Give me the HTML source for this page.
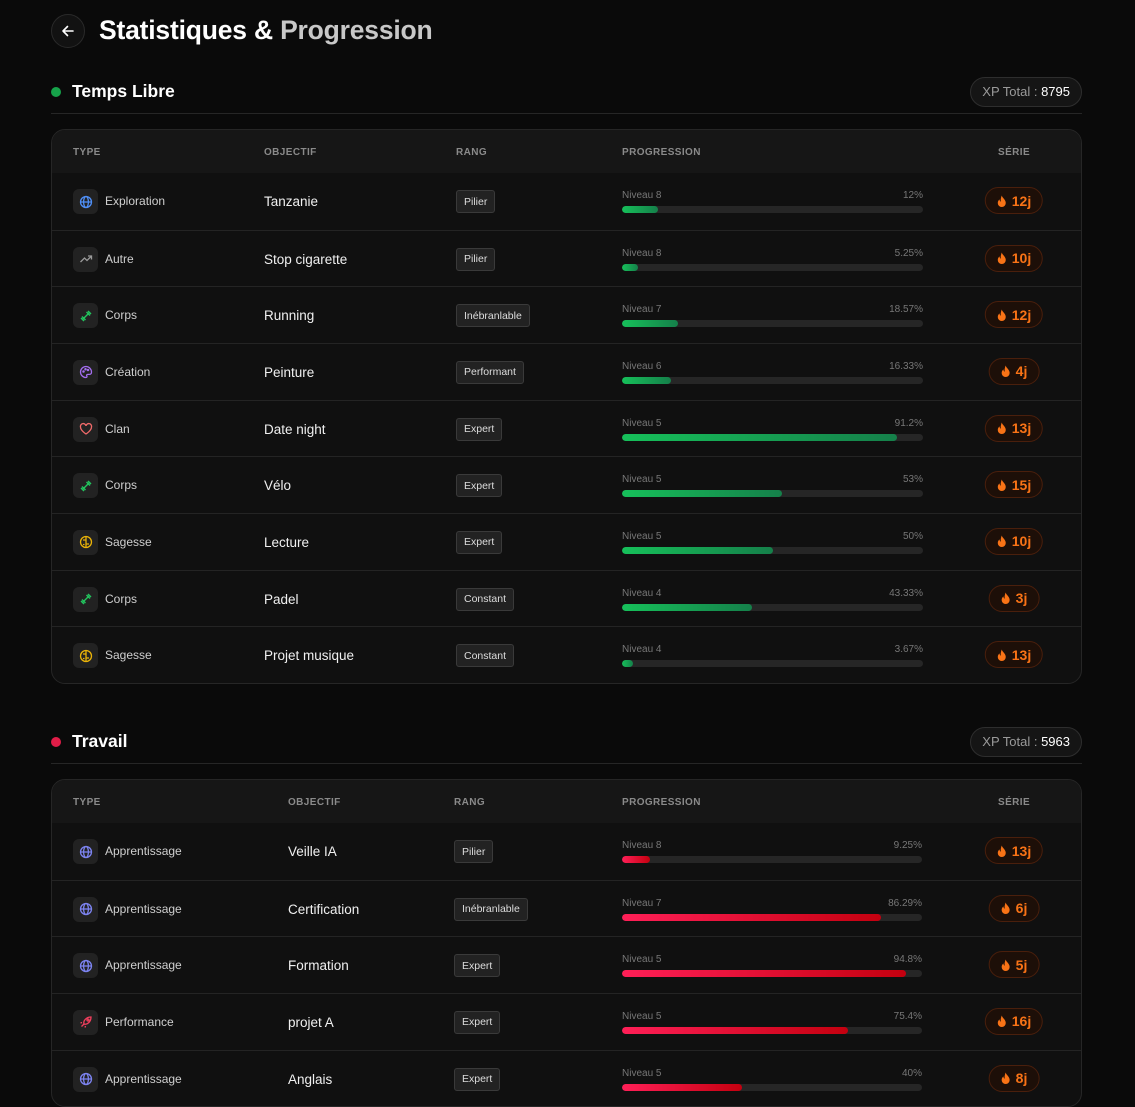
<!DOCTYPE html>
<html><head><meta charset="utf-8"><style>
*{box-sizing:border-box;margin:0;padding:0}
html,body{width:1135px;height:1055px;overflow:hidden;background:#0a0a0a;font-family:"Liberation Sans",sans-serif;color:#e5e5e5}
.abs{position:absolute}
.back{left:51px;top:14px;width:34px;height:34px;border-radius:50%;border:1px solid #2a2a2a;background:#121212;display:flex;align-items:center;justify-content:center}
.title{left:99px;top:15px;font-size:26.5px;font-weight:bold;color:#fff;letter-spacing:-0.2px}
.title span{color:#c8c8c8}
.sec{left:51px;width:1031px}
.sec-head{position:relative;height:36px;border-bottom:1px solid #262626}
.dot{position:absolute;left:0;top:9px;width:10px;height:10px;border-radius:50%}
.sec-name{position:absolute;left:21px;top:3px;font-size:17.5px;font-weight:bold;color:#fff}
.xp{position:absolute;right:0;top:-1px;height:30px;padding:0 11px;border-radius:15px;border:1px solid #2e2e2e;background:#151515;font-size:13px;line-height:28px;color:#9a9a9a}
.xp b{font-weight:normal;color:#fff}
.tbl{position:absolute;left:0;width:1031px;border:1px solid #262626;border-radius:14px;background:#101010;overflow:hidden}
.hdr{height:43px;background:#161616;position:relative;font-size:10px;font-weight:bold;color:#8a8a8a;letter-spacing:0.4px}
.hdr div{position:absolute;top:17px}
.row{height:56.67px;position:relative;border-top:1px solid #242424}
.row:first-of-type{border-top:none}
.ic{position:absolute;left:21px;top:16px;width:25px;height:25px;border-radius:6px;background:#222;display:flex;align-items:center;justify-content:center}
.type{position:absolute;left:53px;top:21px;font-size:12px;color:#cfcfcf}
.obj{position:absolute;top:21px;font-size:13.5px;color:#f0f0f0}
.rank{position:absolute;top:17px;height:23px;padding:0 7px;border:1px solid #3a3a3a;border-radius:3px;background:#222;font-size:10.5px;display:flex;align-items:center;color:#ddd}
.lvl{position:absolute;top:17px;font-size:10px;color:#777}
.pct{position:absolute;top:17px;font-size:10px;color:#777;text-align:right}
.track{position:absolute;top:33px;height:7px;border-radius:4px;background:#262626;overflow:hidden}
.fill{height:100%;border-radius:4px}
.streak{position:absolute;top:14px;height:27px;padding:0 11px;border:1px solid #4a1f0c;border-radius:14px;background:#1d0f08;font-size:14px;font-weight:bold;color:#f97316;transform:translateX(-50%);white-space:nowrap;display:flex;align-items:center;gap:5px}
</style></head><body>
<div class="abs back"><svg width="14" height="14" viewBox="0 0 14 14"><path d="M12 7H2M6.5 2.5L2 7l4.5 4.5" stroke="#fff" stroke-width="1.6" fill="none" stroke-linecap="round" stroke-linejoin="round"/></svg></div>
<div class="abs title">Statistiques &amp; <span>Progression</span></div>
<div id="root"></div>
<script>
const sec1Types=["Exploration","Autre","Corps","Création","Clan","Corps","Sagesse","Corps","Sagesse"];
const sec1Goals=["Tanzanie","Stop cigarette","Running","Peinture","Date night","Vélo","Lecture","Padel","Projet musique"];
const sec1Ranks=["Pilier","Pilier","Inébranlable","Performant","Expert","Expert","Expert","Constant","Constant"];
const sec1Levels=[8,8,7,6,5,5,5,4,4];
const sec1Pcts=[12,5.25,18.57,16.33,91.2,53,50,43.33,3.67];
const sec1Streaks=[12,10,12,4,13,15,10,3,13];
const sec2Types=["Apprentissage","Apprentissage","Apprentissage","Performance","Apprentissage"];
const sec2Goals=["Veille IA","Certification","Formation","projet A","Anglais"];
const sec2Ranks=["Pilier","Inébranlable","Expert","Expert","Expert"];
const sec2Levels=[8,7,5,5,5];
const sec2Pcts=[9.25,86.29,94.8,75.4,40];
const sec2Streaks=[13,6,5,16,8];
const flame='<svg width="10" height="12" viewBox="0 0 10 12"><path d="M5 0.5C5.5 3 9 4.5 9 8a4 4 0 01-8 0c0-1.8 1-3 1.8-3.6 0 1.3.6 2.1 1.3 2.3C3.6 4.5 4.3 2.3 5 .5z" fill="#f97316"/></svg>';
const icons={
"Exploration":'<svg width="14" height="14" viewBox="0 0 14 14" fill="none" stroke="#4f8ff7" stroke-width="1.3"><circle cx="7" cy="7" r="5.5"/><ellipse cx="7" cy="7" rx="2.4" ry="5.5"/><path d="M1.5 7h11"/></svg>',
"Apprentissage":'<svg width="14" height="14" viewBox="0 0 14 14" fill="none" stroke="#7c83f0" stroke-width="1.3"><circle cx="7" cy="7" r="5.5"/><ellipse cx="7" cy="7" rx="2.4" ry="5.5"/><path d="M1.5 7h11"/></svg>',
"Autre":'<svg width="14" height="14" viewBox="0 0 14 14" fill="none" stroke="#9a9a9a" stroke-width="1.3"><path d="M1.5 10l4-4 2.5 2.5 4.5-4.5M9 4h3.5v3.5"/></svg>',
"Corps":'<svg width="14" height="14" viewBox="0 0 14 14" fill="none" stroke="#22c55e" stroke-width="1.4"><path d="M4 10l6-6M2 9l3 3M3 7.5l3.5 3.5M9 2l3 3M7.5 3l3.5 3.5"/></svg>',
"Création":'<svg width="14" height="14" viewBox="0 0 14 14" fill="none" stroke="#a46ef0" stroke-width="1.3"><path d="M7 1.5a5.5 5.5 0 100 11c1 0 1.2-.8.8-1.5-.5-.8 0-1.6 1-1.6h1.5a2.2 2.2 0 002.2-2.2C12.5 4 10 1.5 7 1.5z"/><circle cx="4.5" cy="6.5" r=".6"/><circle cx="6.5" cy="4.2" r=".6"/><circle cx="9" cy="5" r=".6"/></svg>',
"Clan":'<svg width="14" height="14" viewBox="0 0 14 14" fill="none" stroke="#f06a6a" stroke-width="1.3"><path d="M7 12S1.5 8.5 1.5 5A2.8 2.8 0 017 3.8 2.8 2.8 0 0112.5 5C12.5 8.5 7 12 7 12z"/></svg>',
"Sagesse":'<svg width="14" height="14" viewBox="0 0 14 14" fill="none" stroke="#eab308" stroke-width="1.3"><ellipse cx="7" cy="7" rx="5.5" ry="5.5"/><path d="M7 1.5v11M4 5h3M7 9h3M4 9.5h1.5"/></svg>',
"Performance":'<svg width="14" height="14" viewBox="0 0 14 14" fill="none" stroke="#f43f5e" stroke-width="1.3"><path d="M5 9c-1-3 2-7 7-7 0 5-4 8-7 7zM5 9l-2.5 2.5M3 7.5L1.5 8M6.5 11l-.5 1.5"/><circle cx="9" cy="5" r="1"/></svg>'
};
function section(o){
  const s=document.createElement('div');s.className='abs sec';s.style.top=o.top+'px';
  
  
  s.innerHTML='<div class="sec-head"><div class="dot" style="background:'+o.dot+'"></div><div class="sec-name">'+o.name+'</div><div class="xp">XP Total : <b>'+o.xp+'</b></div></div>';
  const t=document.createElement('div');t.className='tbl';t.style.top=(o.tableTop-o.top)+'px';
  
  
  const c=o.cols;
  t.innerHTML='<div class="hdr"><div style="left:21px">TYPE</div><div style="left:'+c.obj+'px">OBJECTIF</div><div style="left:'+c.rank+'px">RANG</div><div style="left:570px">PROGRESSION</div><div style="left:946px">SÉRIE</div></div>';
  const body=document.createElement('div');
  o.types.forEach((ty,i)=>{
    const r=document.createElement('div');r.className='row';
    
    
    const w=c.barW;
    r.innerHTML='<div class="ic">'+(icons[ty]||'')+'</div><div class="type">'+ty+'</div>'+
     '<div class="obj" style="left:'+c.obj+'px">'+o.goals[i]+'</div>'+
     '<div class="rank" style="left:'+c.rank+'px">'+o.ranks[i]+'</div>'+
     '<div class="lvl" style="left:570px">Niveau '+o.levels[i]+'</div>'+
     '<div class="pct" style="left:570px;width:'+w+'px">'+o.pcts[i]+'%</div>'+
     '<div class="track" style="left:570px;width:'+w+'px"><div class="fill" style="width:'+(o.pcts[i]/100*w)+'px;background:'+o.grad+'"></div></div>'+
     '<div class="streak" style="left:962px">'+flame+'<span>'+o.streaks[i]+'j</span></div>';
    body.appendChild(r);
  });
  t.appendChild(body);s.appendChild(t);
  document.getElementById('root').appendChild(s);
}
section({key:'temps-libre',top:78,tableTop:129,name:'Temps Libre',dot:'#16a34a',xp:8795,types:sec1Types,goals:sec1Goals,ranks:sec1Ranks,levels:sec1Levels,pcts:sec1Pcts,streaks:sec1Streaks,cols:{obj:212,rank:404,barW:301},grad:'linear-gradient(90deg,#16c05a,#15804a)'});
section({key:'travail',top:728,tableTop:779,name:'Travail',dot:'#e11d48',xp:5963,types:sec2Types,goals:sec2Goals,ranks:sec2Ranks,levels:sec2Levels,pcts:sec2Pcts,streaks:sec2Streaks,cols:{obj:236,rank:402,barW:300},grad:'linear-gradient(90deg,#ff1f57,#c4000f)'});
</script>
</body></html>
